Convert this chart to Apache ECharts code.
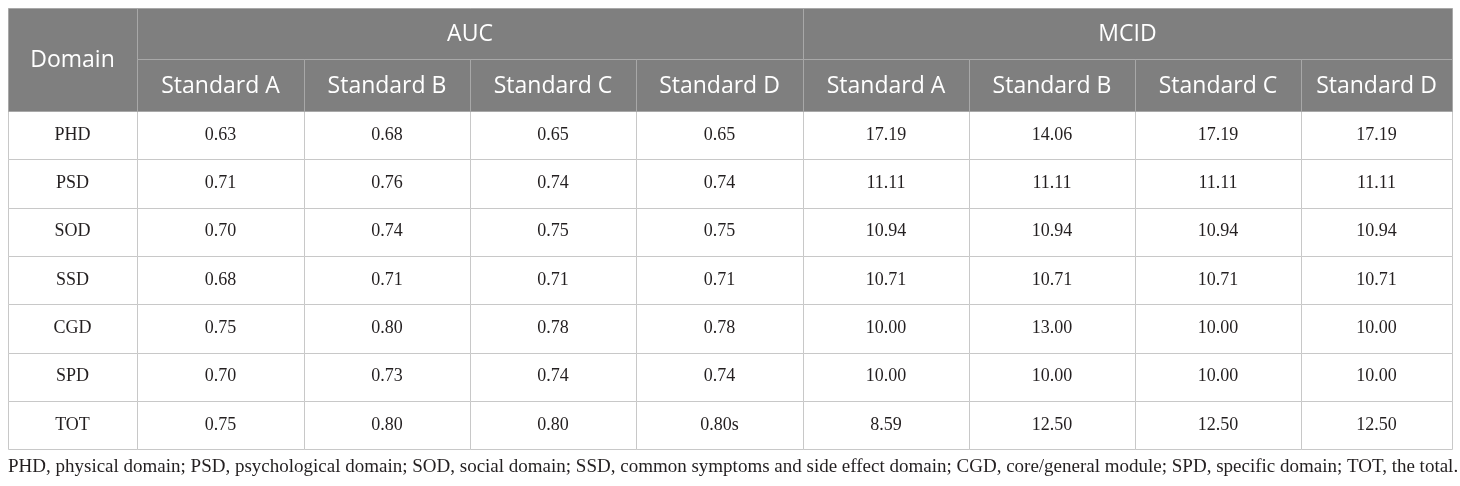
<!DOCTYPE html>
<html>
<head>
<meta charset="utf-8">
<title>AUC and MCID by domain</title>
<script src="https://cdn.jsdelivr.net/npm/echarts@6/dist/echarts.min.js"></script>
<style>
  html, body { margin: 0; padding: 0; background: #fff; }
  #chart { width: 1460px; height: 486px; }
</style>
</head>
<body>
<div id="chart"></div>
<script>
// table content
const domains = ['PHD', 'PSD', 'SOD', 'SSD', 'CGD', 'SPD', 'TOT']
const groups = ['AUC', 'MCID']
const standards = ['Standard A', 'Standard B', 'Standard C', 'Standard D']

const aucA = ['0.63', '0.71', '0.70', '0.68', '0.75', '0.70', '0.75']
const aucB = ['0.68', '0.76', '0.74', '0.71', '0.80', '0.73', '0.80']
const aucC = ['0.65', '0.74', '0.75', '0.71', '0.78', '0.74', '0.80']
const aucD = ['0.65', '0.74', '0.75', '0.71', '0.78', '0.74', '0.80s']

const mcidA = ['17.19', '11.11', '10.94', '10.71', '10.00', '10.00', '8.59']
const mcidB = ['14.06', '11.11', '10.94', '10.71', '13.00', '10.00', '12.50']
const mcidC = ['17.19', '11.11', '10.94', '10.71', '10.00', '10.00', '12.50']
const mcidD = ['17.19', '11.11', '10.94', '10.71', '10.00', '10.00', '12.50']

const footnote = 'PHD, physical domain; PSD, psychological domain; SOD, social domain; SSD, common symptoms and side effect domain; CGD, core/general module; SPD, specific domain; TOT, the total.'

// layout (pixel sizes of columns / rows)
const colWidths = [129, 167, 166, 166, 167, 166, 166, 166, 151]
const rowHeights = [51, 52, 48.3, 48.3, 48.3, 48.3, 48.3, 48.3, 48.3]

const sum = arr => arr.reduce((a, b) => a + b, 0)
const colEdges = colWidths.reduce((acc, w) => { acc.push(acc[acc.length - 1] + w); return acc }, [0])
const rowEdges = rowHeights.reduce((acc, h) => { acc.push(acc[acc.length - 1] + h); return acc }, [0])

// cells: [col, row, colSpan, rowSpan, text, isHeader]
const cells = []
cells.push([0, 0, 1, 2, 'Domain', 1])
groups.forEach((g, i) => cells.push([1 + i * 4, 0, 4, 1, g, 1]))
groups.forEach((g, i) => {
  standards.forEach((s, j) => cells.push([1 + i * 4 + j, 1, 1, 1, s, 1]))
})
const valueCols = [aucA, aucB, aucC, aucD, mcidA, mcidB, mcidC, mcidD]
domains.forEach((d, r) => {
  cells.push([0, 2 + r, 1, 1, d, 0])
  valueCols.forEach((col, c) => cells.push([1 + c, 2 + r, 1, 1, col[r], 0]))
})

const chart = echarts.init(document.getElementById('chart'))

const crisp = v => Math.round(v) + 0.5

const option = {
  animation: false,
  title: {
    text: footnote,
    left: 8,
    top: 458,
    padding: 0,
    textStyle: {
      fontFamily: 'Liberation Serif',
      fontSize: 19,
      fontWeight: 'normal',
      color: '#231f20'
    }
  },
  grid: { left: 8, top: 8, width: sum(colWidths), height: sum(rowHeights) },
  xAxis: { type: 'value', min: 0, max: sum(colWidths), show: false },
  yAxis: { type: 'value', min: 0, max: sum(rowHeights), inverse: true, show: false },
  series: [
    {
      type: 'custom',
      coordinateSystem: 'cartesian2d',
      encode: { x: 0, y: 1 },
      data: cells,
      renderItem: (params, api) => {
        const c = api.value(0)
        const r = api.value(1)
        const cs = api.value(2)
        const rs = api.value(3)
        const header = api.value(5) === 1
        const p0 = api.coord([colEdges[c], rowEdges[r]])
        const p1 = api.coord([colEdges[c + cs], rowEdges[r + rs]])
        const x0 = crisp(p0[0])
        const y0 = crisp(p0[1])
        const x1 = crisp(p1[0])
        const y1 = crisp(p1[1])
        return {
          type: 'group',
          children: [
            {
              type: 'rect',
              shape: { x: x0, y: y0, width: x1 - x0, height: y1 - y0 },
              style: {
                fill: header ? '#7f7f7f' : '#ffffff',
                stroke: header ? '#a8a8a8' : '#c8c8c8',
                lineWidth: 1
              },
              z2: header ? 1 : 0
            },
            {
              type: 'text',
              x: (p0[0] + p1[0]) / 2,
              y: (p0[1] + p1[1]) / 2 + (header ? 1 : 0),
              style: {
                text: cells[params.dataIndex][4],
                align: 'center',
                verticalAlign: 'middle',
                fill: header ? '#ffffff' : '#231f20',
                fontFamily: header ? 'Open Sans' : 'Liberation Serif',
                fontSize: header ? 23 : 18
              },
              z2: 2
            }
          ]
        }
      }
    }
  ]
}

chart.setOption(option)
</script>
</body>
</html>
